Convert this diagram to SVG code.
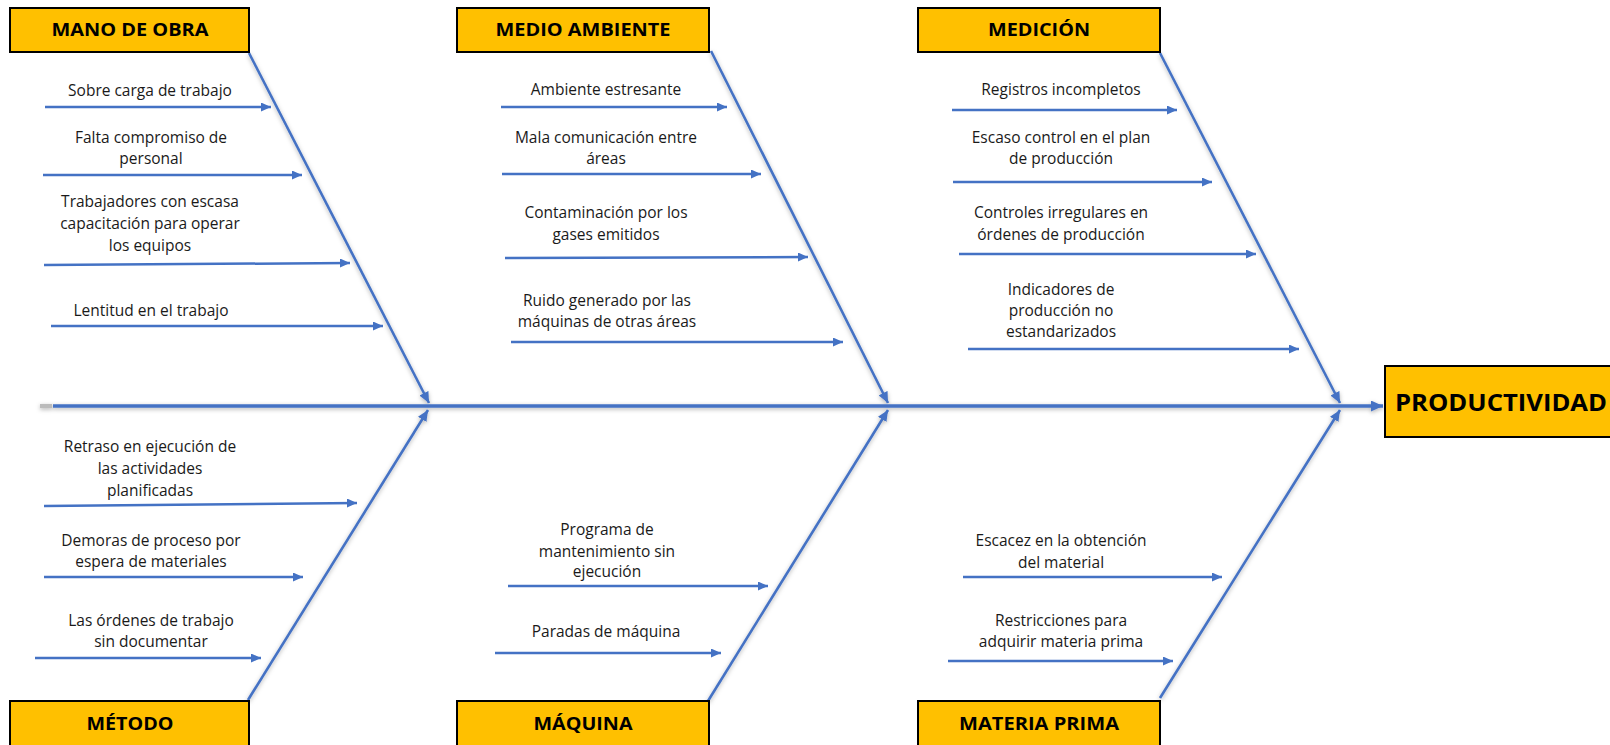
<svg xmlns="http://www.w3.org/2000/svg" width="1610" height="745" viewBox="0 0 1610 745">
<defs>
<style>
.hdr rect{fill:#FFC000;stroke:#000;stroke-width:2}
.hdr text{font-family:"Open Sans","Liberation Sans",sans-serif;font-weight:bold;font-size:17px;fill:#000;text-anchor:middle}
.cause text{font-family:"Open Sans","Liberation Sans",sans-serif;font-size:15.5px;fill:#1a1a1a;text-anchor:middle}
.arr{stroke:#4472C4;stroke-width:2.5;fill:none;marker-end:url(#ah)}
.bone{stroke:#4472C4;stroke-width:2.6;fill:none;marker-end:url(#ahb)}
.spine{stroke:#4472C4;stroke-width:3.5;fill:none;marker-end:url(#ahs)}
</style>
<marker id="ah" markerUnits="userSpaceOnUse" markerWidth="11" markerHeight="9" refX="10" refY="4.5" orient="auto"><path d="M0,0 L10,4.5 L0,9 Z" fill="#4472C4"/></marker>
<marker id="ahb" markerUnits="userSpaceOnUse" markerWidth="12" markerHeight="10" refX="11" refY="5" orient="auto"><path d="M0,0 L11,5 L0,10 Z" fill="#4472C4"/></marker>
<marker id="ahs" markerUnits="userSpaceOnUse" markerWidth="13" markerHeight="11" refX="12" refY="5.5" orient="auto"><path d="M0,0 L12,5.5 L0,11 Z" fill="#4472C4"/></marker>
<filter id="sh" x="-5%" y="-5%" width="110%" height="110%"><feDropShadow dx="0" dy="1.5" stdDeviation="2" flood-color="#000" flood-opacity="0.3"/></filter>
</defs>
<rect width="1610" height="745" fill="#fff"/>

<g id="connectors">
<g filter="url(#sh)">
<line x1="40" y1="406" x2="52" y2="406" stroke="#bbb" stroke-width="4"/>
<line class="spine" x1="53" y1="406" x2="1383" y2="406"/>
<line class="bone" x1="249" y1="53" x2="429" y2="403"/>
<line class="bone" x1="711" y1="51" x2="888" y2="403"/>
<line class="bone" x1="1160" y1="53" x2="1340" y2="403"/>
<line class="bone" x1="248" y1="700" x2="428" y2="410"/>
<line class="bone" x1="708" y1="701" x2="888" y2="410"/>
<line class="bone" x1="1160" y1="698" x2="1340" y2="410"/>
</g>
<line class="arr" x1="45" y1="107" x2="271" y2="107"/>
<line class="arr" x1="43" y1="175" x2="302" y2="175"/>
<line class="arr" x1="44" y1="265" x2="350" y2="263"/>
<line class="arr" x1="51" y1="326" x2="383" y2="326"/>
<line class="arr" x1="501" y1="107" x2="727" y2="107"/>
<line class="arr" x1="502" y1="174" x2="761" y2="174"/>
<line class="arr" x1="505" y1="258" x2="808" y2="257"/>
<line class="arr" x1="511" y1="342" x2="843" y2="342"/>
<line class="arr" x1="952" y1="110" x2="1177" y2="110"/>
<line class="arr" x1="953" y1="182" x2="1212" y2="182"/>
<line class="arr" x1="959" y1="254" x2="1256" y2="254"/>
<line class="arr" x1="968" y1="349" x2="1299" y2="349"/>
<line class="arr" x1="44" y1="506" x2="357" y2="503"/>
<line class="arr" x1="44" y1="577" x2="303" y2="577"/>
<line class="arr" x1="35" y1="658" x2="261" y2="658"/>
<line class="arr" x1="508" y1="586" x2="768" y2="586"/>
<line class="arr" x1="495" y1="653" x2="721" y2="653"/>
<line class="arr" x1="963" y1="577" x2="1222" y2="577"/>
<line class="arr" x1="948" y1="661" x2="1173" y2="661"/>
</g>

<g id="mano-de-obra" class="hdr"><rect x="10" y="8" width="239" height="44"/><text x="130" y="36" textLength="157" lengthAdjust="spacingAndGlyphs">MANO DE OBRA</text></g>
<g id="medio-ambiente" class="hdr"><rect x="457" y="8" width="252" height="44"/><text x="583" y="36" textLength="175" lengthAdjust="spacingAndGlyphs">MEDIO AMBIENTE</text></g>
<g id="medicion" class="hdr"><rect x="918" y="8" width="242" height="44"/><text x="1039" y="36" textLength="102" lengthAdjust="spacingAndGlyphs">MEDICIÓN</text></g>
<g id="metodo" class="hdr"><rect x="10" y="701" width="239" height="50"/><text x="130" y="730" textLength="87" lengthAdjust="spacingAndGlyphs">MÉTODO</text></g>
<g id="maquina" class="hdr"><rect x="457" y="701" width="252" height="50"/><text x="583" y="730" textLength="99" lengthAdjust="spacingAndGlyphs">MÁQUINA</text></g>
<g id="materia-prima" class="hdr"><rect x="918" y="701" width="242" height="50"/><text x="1039" y="730" textLength="160" lengthAdjust="spacingAndGlyphs">MATERIA PRIMA</text></g>
<g id="productividad" class="hdr"><rect x="1385" y="366" width="230" height="71"/><text x="1501" y="411" style="font-size:24px" textLength="212" lengthAdjust="spacingAndGlyphs">PRODUCTIVIDAD</text></g>

<g id="c-sobrecarga" class="cause"><text x="150" y="96">Sobre carga de trabajo</text></g>
<g id="c-compromiso" class="cause"><text x="151" y="143">Falta compromiso de</text><text x="151" y="164">personal</text></g>
<g id="c-capacitacion" class="cause"><text x="150" y="207">Trabajadores con escasa</text><text x="150" y="229">capacitación para operar</text><text x="150" y="251">los equipos</text></g>
<g id="c-lentitud" class="cause"><text x="151" y="316">Lentitud en el trabajo</text></g>

<g id="c-estresante" class="cause"><text x="606" y="95">Ambiente estresante</text></g>
<g id="c-comunicacion" class="cause"><text x="606" y="143">Mala comunicación entre</text><text x="606" y="164">áreas</text></g>
<g id="c-contaminacion" class="cause"><text x="606" y="218">Contaminación por los</text><text x="606" y="240">gases emitidos</text></g>
<g id="c-ruido" class="cause"><text x="607" y="306">Ruido generado por las</text><text x="607" y="327">máquinas de otras áreas</text></g>

<g id="c-registros" class="cause"><text x="1061" y="95">Registros incompletos</text></g>
<g id="c-control" class="cause"><text x="1061" y="143">Escaso control en el plan</text><text x="1061" y="164">de producción</text></g>
<g id="c-controles" class="cause"><text x="1061" y="218">Controles irregulares en</text><text x="1061" y="240">órdenes de producción</text></g>
<g id="c-indicadores" class="cause"><text x="1061" y="295">Indicadores de</text><text x="1061" y="316">producción no</text><text x="1061" y="337">estandarizados</text></g>

<g id="c-retraso" class="cause"><text x="150" y="452">Retraso en ejecución de</text><text x="150" y="474">las actividades</text><text x="150" y="496">planificadas</text></g>
<g id="c-demoras" class="cause"><text x="151" y="546">Demoras de proceso por</text><text x="151" y="567">espera de materiales</text></g>
<g id="c-ordenes" class="cause"><text x="151" y="626">Las órdenes de trabajo</text><text x="151" y="647">sin documentar</text></g>

<g id="c-programa" class="cause"><text x="607" y="535">Programa de</text><text x="607" y="557">mantenimiento sin</text><text x="607" y="577">ejecución</text></g>
<g id="c-paradas" class="cause"><text x="606" y="637">Paradas de máquina</text></g>

<g id="c-escacez" class="cause"><text x="1061" y="546">Escacez en la obtención</text><text x="1061" y="568">del material</text></g>
<g id="c-restricciones" class="cause"><text x="1061" y="626">Restricciones para</text><text x="1061" y="647">adquirir materia prima</text></g>
</svg>
